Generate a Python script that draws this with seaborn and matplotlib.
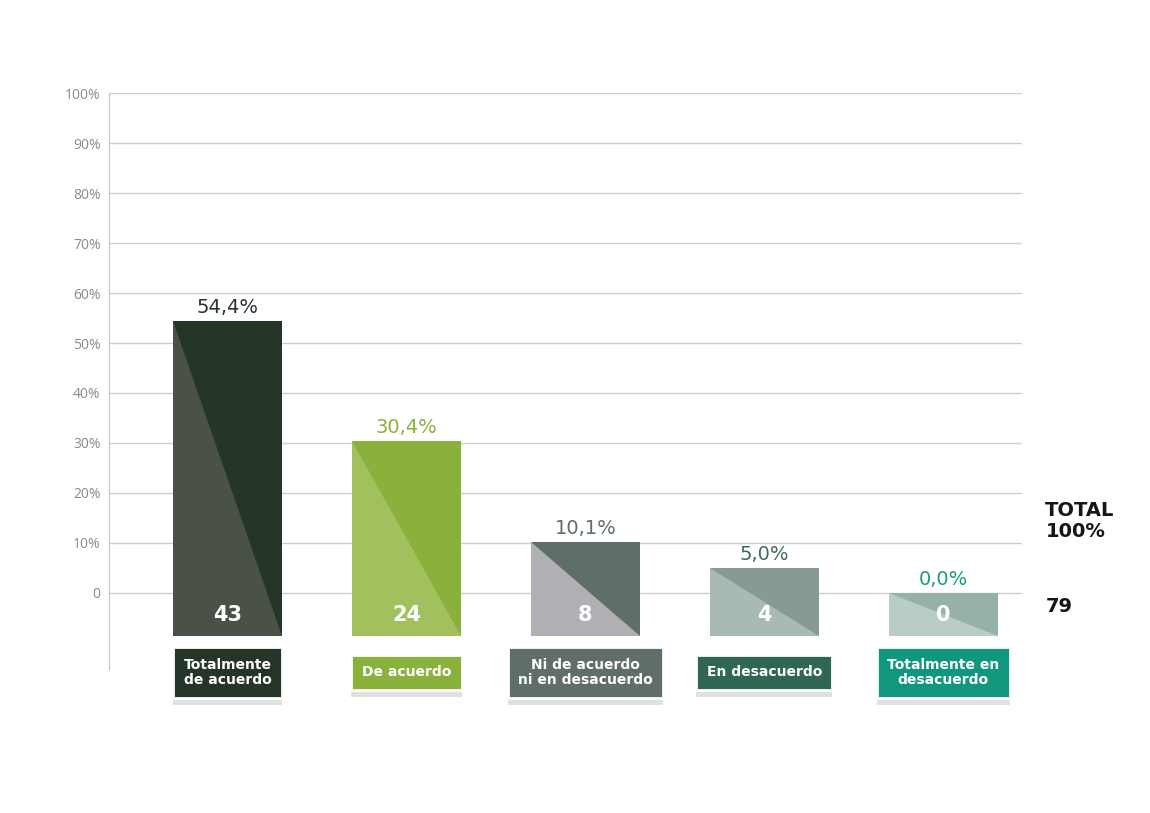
import numpy as np
import pandas as pd
import matplotlib.pyplot as plt
import matplotlib.patheffects as pe
import seaborn as sns

# data
categories = ['Totalmente\nde acuerdo', 'De acuerdo', 'Ni de acuerdo\nni en desacuerdo',
              'En desacuerdo', 'Totalmente en\ndesacuerdo']
pcts = [54.4, 30.4, 10.1, 5.0, 0.0]
counts = [43, 24, 8, 4, 0]
pct_labels = ['54,4%', '30,4%', '10,1%', '5,0%', '0,0%']
total_label = 'TOTAL\n100%'
total_count = '79'

dark = ['#253528', '#8ab13c', '#5f6e66', '#869b92', '#96b2a8']
light = ['#4a5248', '#a2c05e', '#b0afb4', '#a9b9b3', '#b8cdc7']
pct_colors = ['#253528', '#8ab13c', '#5f6e66', '#3d6b5c', '#1a9a80']
box_colors = ['#253528', '#8ab13c', '#5f6e66', '#2f6656', '#10977d']

sns.set_style('white')
plt.rcParams['font.family'] = ['DejaVu Sans']

fig = plt.figure(figsize=(11.5, 8.13), dpi=100)
ax = fig.add_axes([0.0948, 0.1759, 0.794, 0.7097])

df = pd.DataFrame({'cat': categories, 'pct': pcts})
sns.barplot(data=df, x='cat', y='pct', hue='cat', palette=dark, legend=False,
            width=0.61, saturation=1, ax=ax, zorder=2)

base = -8.6
for i, p in enumerate(ax.patches):
    p.set_y(base)
    p.set_height(pcts[i] - base)
    p.set_edgecolor('none')
    x0, x1 = p.get_x(), p.get_x() + p.get_width()
    y0, y1 = base, pcts[i]
    # lighter lower-left triangle
    ax.fill([x0, x0, x1], [y1, y0, y0], color=light[i], zorder=3, lw=0)
    xc = x0 + p.get_width() / 2
    ax.text(xc, -4.4, str(counts[i]), color='white', fontsize=15, fontweight='bold',
            ha='center', va='center', zorder=4)
    ax.annotate(pct_labels[i], (xc, pcts[i]), xytext=(0, 3), textcoords='offset points',
                ha='center', va='bottom', fontsize=14, color=pct_colors[i])
    shadow = [pe.withSimplePatchShadow(offset=(0, -5), shadow_rgbFace='#999999', alpha=0.3)]
    ax.text(xc, -15.9, categories[i], color='white', fontsize=10, fontweight='bold',
            ha='center', va='center', linespacing=1.15, zorder=5,
            bbox=dict(boxstyle='square,pad=0.75', fc=box_colors[i], ec='white', lw=2,
                      path_effects=shadow))

ax.set_xlim(-0.662, 4.441)
ax.set_ylim(-15.4, 100)
ticks = np.arange(0, 101, 10)
ax.set_yticks(ticks)
ax.set_yticklabels(['0'] + [f'{t}%' for t in ticks[1:]], color='#8a8a8a', fontsize=10,
                   family='Open Sans')
ax.set_xticks([])
ax.set_xlabel('')
ax.set_ylabel('')
ax.tick_params(axis='y', length=0, pad=6)
ax.grid(axis='y', color='#cfcfcf', lw=1, zorder=0)
ax.set_axisbelow(True)
for s in ['top', 'right', 'bottom']:
    ax.spines[s].set_visible(False)
ax.spines['left'].set_color('#c4c4c4')

fig.text(0.909, 0.359, total_label, fontsize=14, fontweight='bold', color='#1a1414',
         ha='left', va='center', linespacing=1.1)
fig.text(0.909, 0.2546, total_count, fontsize=14, fontweight='bold', color='#1a1414',
         ha='left', va='center')

fig.savefig('out.png', dpi=100, facecolor='white')
